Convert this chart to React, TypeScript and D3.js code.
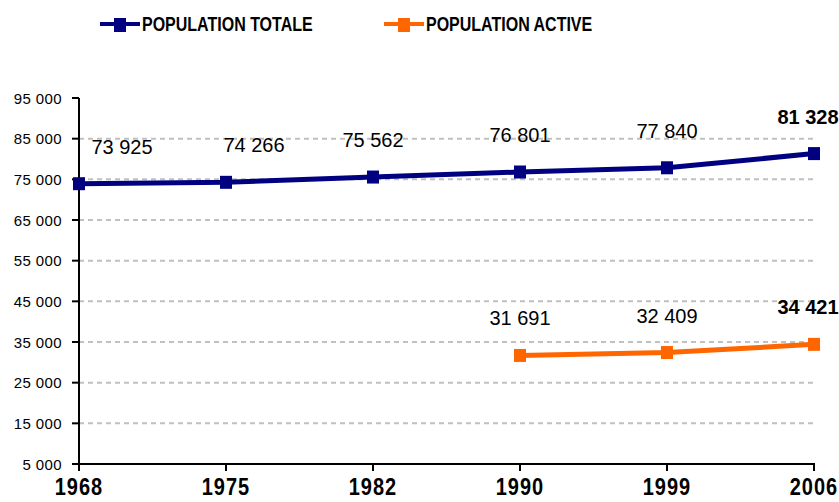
import * as d3 from "d3";

// census years and population counts
const years = ["1968", "1975", "1982", "1990", "1999", "2006"];
const totalPop = [73925, 74266, 75562, 76801, 77840, 81328];
const activePop: (number | null)[] = [null, null, null, 31691, 32409, 34421];
const yTicks = [5000, 15000, 25000, 35000, 45000, 55000, 65000, 75000, 85000, 95000];

const NAVY = "#000080";
const ORANGE = "#FF6600";
const FONT = "'Liberation Sans', Arial, sans-serif";

const width = 839;
const height = 502;
const margin = { top: 98, right: 25, bottom: 38, left: 79 };

// horizontal nudges for value labels (the original chart shifts a few of them)
const labelNudge = [43, 28, 0, 0, 0, -6];

const fmt = d3.formatLocale({ thousands: " ", grouping: [3], decimal: ",", currency: ["", ""] }).format(",d");

export default function App() {
  const x = d3.scalePoint<string>().domain(years).range([margin.left, width - margin.right]);
  const y = d3.scaleLinear().domain([5000, 95000]).range([height - margin.bottom, margin.top]);

  const line = d3
    .line<[string, number | null]>()
    .defined((d) => d[1] != null)
    .x((d) => x(d[0])!)
    .y((d) => y(d[1] as number));

  const totalPts = years.map((yr, i) => [yr, totalPop[i]] as [string, number | null]);
  const activePts = years.map((yr, i) => [yr, activePop[i]] as [string, number | null]);

  const x0 = margin.left;
  const x1 = width - margin.right;
  const yBase = y(5000);

  const series = [
    { name: "POPULATION TOTALE", pts: totalPts, color: NAVY },
    { name: "POPULATION ACTIVE", pts: activePts, color: ORANGE },
  ];

  const xlabBase = 495;

  return (
    <svg width={width} height={height} style={{ position: "absolute", left: 0, top: 0, background: "#fff" }}>
      {/* legend */}
      <g fontFamily={FONT} fontWeight="bold" fontSize={16}>
        {[
          { s: series[0], lx: 100 },
          { s: series[1], lx: 384 },
        ].map(({ s, lx }) => (
          <g key={s.name}>
            <line x1={lx} x2={lx + 40} y1={24} y2={24} stroke={s.color} strokeWidth={4} />
            <rect x={lx + 14} y={18} width={12} height={14} fill={s.color} />
            <text x={lx + 42} y={31} transform={`translate(0,${-31 * 0.25}) scale(1,1.25)`} fill="#000">
              {s.name}
            </text>
          </g>
        ))}
      </g>

      {/* gridlines */}
      {yTicks
        .filter((t) => t > 5000 && t < 95000)
        .map((t) => (
          <line key={t} x1={x0} x2={x1} y1={y(t)} y2={y(t)} stroke="#c0c0c0" strokeWidth={2} strokeDasharray="5,4" />
        ))}

      {/* y axis */}
      <line x1={x0} x2={x0} y1={y(95000)} y2={yBase + 1} stroke="#000" strokeWidth={2} />
      {yTicks.map((t) => (
        <g key={t}>
          <line x1={x0 - 7} x2={x0} y1={y(t)} y2={y(t)} stroke="#000" strokeWidth={2} />
          <text x={62} y={y(t) + 5.5} textAnchor="end" fontFamily={FONT} fontSize={15} letterSpacing={0.4}>
            {fmt(t)}
          </text>
        </g>
      ))}

      {/* x axis */}
      <line x1={x0 - 1} x2={x1 + 1} y1={yBase} y2={yBase} stroke="#000" strokeWidth={2} />
      {years.map((yr) => (
        <g key={yr}>
          <line x1={x(yr)!} x2={x(yr)!} y1={yBase} y2={yBase + 7} stroke="#000" strokeWidth={2} />
          <text
            x={x(yr)!}
            y={xlabBase}
            textAnchor="middle"
            fontFamily={FONT}
            fontWeight="bold"
            fontSize={20}
            letterSpacing={1}
            transform={`translate(0,${-xlabBase * 0.15}) scale(1,1.15)`}
          >
            {yr}
          </text>
        </g>
      ))}

      {/* lines and markers */}
      {series.map((s) => (
        <g key={s.name}>
          <path d={line(s.pts) ?? ""} fill="none" stroke={s.color} strokeWidth={5} />
          {s.pts
            .filter((d) => d[1] != null)
            .map((d) => (
              <rect key={d[0]} x={x(d[0])! - 6} y={y(d[1] as number) - 6.5} width={12} height={13} fill={s.color} />
            ))}
        </g>
      ))}

      {/* value labels */}
      {series.map((s) =>
        s.pts.map((d, i) =>
          d[1] == null ? null : (
            <text
              key={s.name + d[0]}
              x={x(d[0])! + labelNudge[i]}
              y={y(d[1] as number) - 30}
              textAnchor="middle"
              fontFamily={FONT}
              fontSize={20}
              fontWeight={i === years.length - 1 ? "bold" : "normal"}
            >
              {fmt(d[1] as number)}
            </text>
          )
        )
      )}
    </svg>
  );
}
